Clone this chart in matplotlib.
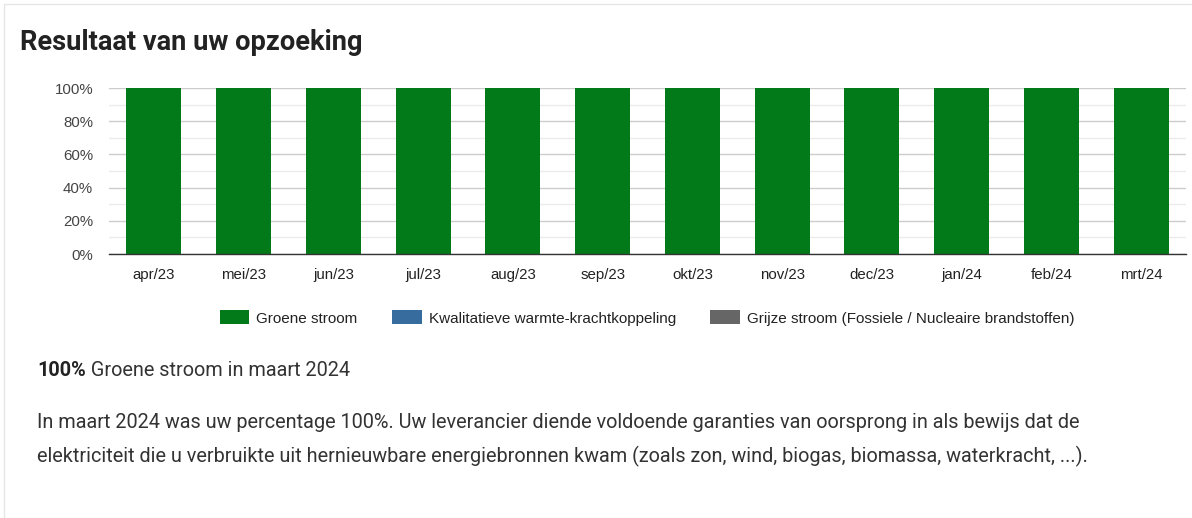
import matplotlib
matplotlib.use("Agg")
import matplotlib.pyplot as plt
import matplotlib.ticker as mticker
from matplotlib.patches import Rectangle
import numpy as np

# chart data
months = ["apr/23", "mei/23", "jun/23", "jul/23", "aug/23", "sep/23",
          "okt/23", "nov/23", "dec/23", "jan/24", "feb/24", "mrt/24"]
groene_stroom = [100, 100, 100, 100, 100, 100, 100, 100, 100, 100, 100, 100]
wkk = [0, 0, 0, 0, 0, 0, 0, 0, 0, 0, 0, 0]
grijze_stroom = [0, 0, 0, 0, 0, 0, 0, 0, 0, 0, 0, 0]
series_labels = ["Groene stroom", "Kwalitatieve warmte-krachtkoppeling",
                 "Grijze stroom (Fossiele / Nucleaire brandstoffen)"]

title = "Resultaat van uw opzoeking"
summary_bold = "100%"
summary_rest = " Groene stroom in maart 2024"
paragraph = [
    "In maart 2024 was uw percentage 100%. Uw leverancier diende voldoende "
    "garanties van oorsprong in als bewijs dat de",
    "elektriciteit die u verbruikte uit hernieuwbare energiebronnen kwam "
    "(zoals zon, wind, biogas, biomassa, waterkracht, ...).",
]

GREEN = "#037a19"
BLUE = "#376c9e"
GREY = "#666666"
TEXT = "#333333"

W, H = 1192, 518
fig = plt.figure(figsize=(W / 100, H / 100), dpi=100)
fig.patch.set_facecolor("white")


def px(x, y):
    return x / W, 1 - y / H


# card border
fig.patches.append(Rectangle((4 / W, -0.1), 1.2, 1 - 4 / H + 0.1,
                             transform=fig.transFigure, fill=False,
                             edgecolor="#e6e6e6", linewidth=1))

ax = fig.add_axes([109 / W, 1 - 254 / H, (1186 - 109) / W, (254 - 88) / H])
x = np.arange(len(months))
bw = 0.613
ax.bar(x, groene_stroom, width=bw, color=GREEN, linewidth=0, label=series_labels[0], zorder=3)
ax.bar(x, wkk, width=bw, bottom=groene_stroom, color=BLUE, linewidth=0,
       label=series_labels[1], zorder=3)
ax.bar(x, grijze_stroom, width=bw, bottom=np.add(groene_stroom, wkk), color=GREY,
       linewidth=0, label=series_labels[2], zorder=3)

ax.set_xlim(-0.5, len(months) - 0.5)
ax.set_ylim(0, 100)
ax.set_yticks([0, 20, 40, 60, 80, 100])
ax.set_yticks([10, 30, 50, 70, 90], minor=True)
ax.yaxis.set_major_formatter(mticker.PercentFormatter(decimals=0))
ax.grid(True, axis="y", which="major", color="#cccccc", linewidth=1, zorder=0)
ax.grid(True, axis="y", which="minor", color="#ebebeb", linewidth=1, zorder=0)
ax.set_xticks(x)
ax.set_xticklabels(months)
for s in ("top", "right", "left"):
    ax.spines[s].set_visible(False)
ax.spines["bottom"].set_color("#333333")
ax.spines["bottom"].set_linewidth(1)
ax.spines["bottom"].set_zorder(4)
ax.tick_params(axis="y", which="both", length=0, pad=11.5, labelsize=10.8, labelcolor="#444444")
ax.tick_params(axis="x", length=0, pad=10, labelsize=10.8, labelcolor="#222222")
for lab in ax.get_xticklabels() + ax.get_yticklabels():
    lab.set_family("Liberation Sans")

leg = fig.legend(loc="center", bbox_to_anchor=(647 / W, 1 - 318 / H), ncol=3,
                 frameon=False, prop={"family": "Liberation Sans", "size": 11},
                 handlelength=1.95, handleheight=1.0, handletextpad=0.45,
                 columnspacing=2.25)
for t in leg.get_texts():
    t.set_color("#222222")

fig.text(*px(20, 42), title, family="Roboto", fontweight="bold", fontsize=19.6,
         color="#222222", va="center", ha="left")

t1 = fig.text(*px(37, 370), summary_bold, family="Roboto", fontweight="bold",
              fontsize=14.3, color="#222222", va="center", ha="left")
fig.canvas.draw()
bb = t1.get_window_extent()
fig.text(bb.x1 / W, 1 - 370 / H, summary_rest, family="Roboto", fontsize=14.3,
         color=TEXT, va="center", ha="left")

for i, line in enumerate(paragraph):
    fig.text(*px(37, 423 + 33 * i), line, family="Roboto", fontsize=14.3,
             color=TEXT, va="center", ha="left")

fig.savefig("out.png", dpi=100)
